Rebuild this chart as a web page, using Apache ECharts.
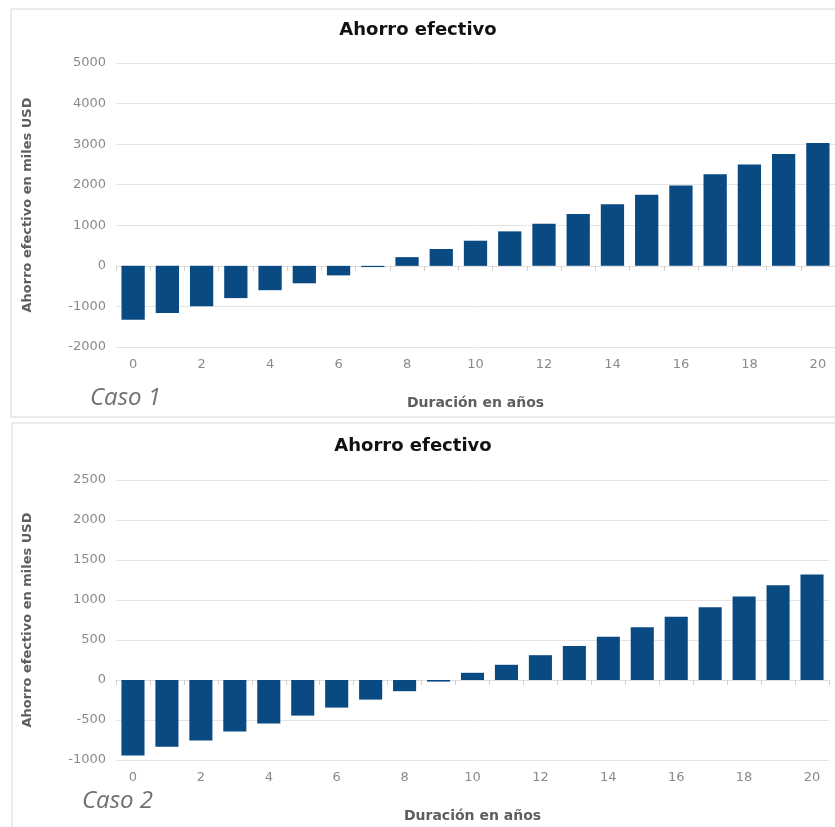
<!DOCTYPE html>
<html>
<head>
<meta charset="utf-8">
<script src="https://cdn.jsdelivr.net/npm/echarts@6/dist/echarts.min.js"></script>
<style>
  html, body { margin: 0; padding: 0; background: #ffffff; }
  #chart { width: 835px; height: 827px; }
</style>
</head>
<body>
<div id="chart"></div>
<script>
// Years of duration (x categories)
const years = ['0','1','2','3','4','5','6','7','8','9','10','11','12','13','14','15','16','17','18','19','20'];

// Effective savings, thousands of USD — case 1
const caso1 = [-1330, -1165, -995, -795, -600, -430, -235, -30, 215, 415, 620, 850, 1040, 1280, 1520, 1750, 1980, 2260, 2500, 2760, 3030];

// Effective savings, thousands of USD — case 2
const caso2 = [-945, -835, -755, -645, -545, -445, -345, -245, -140, -20, 90, 190, 310, 425, 540, 660, 790, 910, 1045, 1185, 1320];

// Axis ranges
const yRange1 = { min: -2000, max: 5000, interval: 1000 };
const yRange2 = { min: -1000, max: 2500, interval: 500 };

const titleText = 'Ahorro efectivo';
const yName = 'Ahorro efectivo en miles USD';
const xName = 'Duración en años';
const caseLabels = ['Caso 1', 'Caso 2'];

const barColor = '#0a4a82';
const gridColor = '#e4e4e4';
const labelColor = '#8a8a8a';
const nameColor = '#5e5e5e';

function xAxisFor(gridIndex) {
  return {
    type: 'category',
    gridIndex: gridIndex,
    data: years,
    name: xName,
    nameLocation: 'middle',
    nameGap: 49,
    nameTextStyle: { fontFamily: 'DejaVu Sans', fontWeight: 'bold', fontSize: 14, color: nameColor },
    axisLine: { show: true, lineStyle: { color: '#e0e0e0', width: 1 } },
    axisTick: { show: true, interval: 0, length: 5, lineStyle: { color: '#d0d0d0' } },
    axisLabel: { interval: 1, margin: 11, fontFamily: 'DejaVu Sans', fontSize: 13, color: labelColor },
    splitLine: { show: false }
  };
}

function yAxisFor(gridIndex, range) {
  return {
    type: 'value',
    gridIndex: gridIndex,
    min: range.min,
    max: range.max,
    interval: range.interval,
    name: yName,
    nameLocation: 'middle',
    nameGap: 82,
    nameTextStyle: { fontFamily: 'DejaVu Sans', fontWeight: 'bold', fontSize: 13, color: nameColor },
    axisLine: { show: false },
    axisTick: { show: false },
    axisLabel: { margin: 10, fontFamily: 'DejaVu Sans', fontSize: 13, color: labelColor,
                 formatter: function (v) { return String(v); } },
    splitLine: { show: true, lineStyle: { color: gridColor, width: 1 } }
  };
}

function barSeries(idx, values) {
  return {
    type: 'bar',
    xAxisIndex: idx,
    yAxisIndex: idx,
    data: values,
    barCategoryGap: '32%',
    itemStyle: { color: barColor },
    animation: false
  };
}

const chart = echarts.init(document.getElementById('chart'), null, { renderer: 'canvas' });

chart.setOption({
  backgroundColor: '#ffffff',
  animation: false,
  title: [
    { text: titleText, left: 413, top: 16, textAlign: 'center',
      textStyle: { fontFamily: 'DejaVu Sans', fontWeight: 'bold', fontSize: 18, color: '#111111' } },
    { text: titleText, left: 408, top: 432, textAlign: 'center',
      textStyle: { fontFamily: 'DejaVu Sans', fontWeight: 'bold', fontSize: 18, color: '#111111' } }
  ],
  grid: [
    { left: 116, right: -4, top: 63, height: 284 },
    { left: 116, right: 6, top: 480, height: 280 }
  ],
  xAxis: [xAxisFor(0), xAxisFor(1)],
  yAxis: [yAxisFor(0, yRange1), yAxisFor(1, yRange2)],
  series: [barSeries(0, caso1), barSeries(1, caso2)],
  graphic: [
    { type: 'rect', shape: { x: 11, y: 9, width: 830, height: 408 },
      style: { fill: 'none', stroke: '#d8d8d8', lineWidth: 1 }, silent: true, z: -1 },
    { type: 'rect', shape: { x: 12, y: 423, width: 830, height: 412 },
      style: { fill: 'none', stroke: '#d8d8d8', lineWidth: 1 }, silent: true, z: -1 },
    { type: 'text', left: 90, top: 386,
      style: { text: caseLabels[0], font: 'italic 24px "Open Sans"', fill: '#707070' } },
    { type: 'text', left: 82, top: 789,
      style: { text: caseLabels[1], font: 'italic 24px "Open Sans"', fill: '#707070' } }
  ]
});
</script>
</body>
</html>
